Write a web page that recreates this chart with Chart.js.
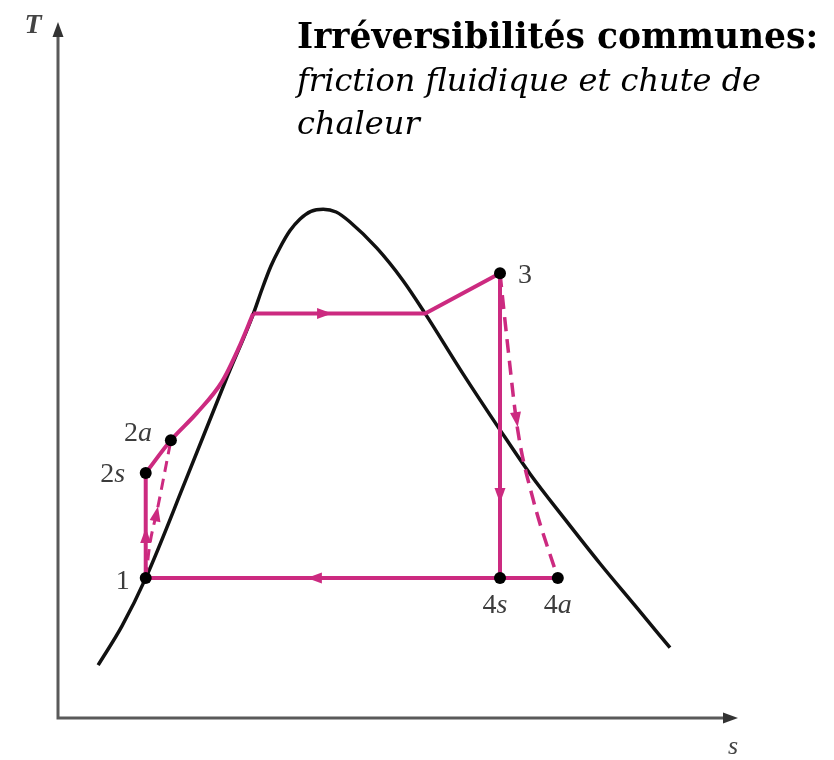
<!DOCTYPE html>
<html>
<head>
<meta charset="utf-8">
<script src="https://cdn.jsdelivr.net/npm/chart.js@4/dist/chart.umd.min.js"></script>
<style>
  html, body { margin: 0; padding: 0; background: #fff; }
  #wrap { width: 834px; height: 760px; }
</style>
</head>
<body>
<div id="wrap"><canvas id="ts" width="834" height="760"></canvas></div>
<script>
// --- Données (s, T en unités arbitraires 0..100) ---
const domeS = [5.9, 9.4, 12.9, 18.8, 24.7, 28.7, 30.0, 31.3, 32.6, 34.1, 35.6, 37.2, 39.0, 40.9, 42.9, 46.9, 50.7, 54.0, 59.4, 65.0, 69.4, 74.6, 79.7, 84.9, 90.0];
const domeT = [7.6, 13.2, 20.1, 34.2, 48.6, 58.0, 61.6, 64.9, 67.5, 70.0, 71.7, 72.8, 73.1, 72.7, 71.3, 67.5, 62.9, 58.1, 49.7, 41.4, 35.1, 28.5, 22.2, 16.1, 10.1];

const stateNames = ['1', '2s', '2a', '3', '4s', '4a'];
const stateS = [12.9, 12.9, 16.6, 65.0, 65.0, 73.5];
const stateT = [20.1, 35.2, 39.9, 63.9, 20.1, 20.1];

// chauffage liquide 2s -> 2a -> liquide saturé
const heatS = [12.9, 16.6, 20.4, 24.1, 26.5, 28.7];
const heatT = [35.2, 39.9, 43.8, 48.3, 53.0, 58.1];
// vaporisation + surchauffe -> 3
const boilS = [28.7, 54.0, 65.0];
const boilT = [58.1, 58.1, 63.9];
// pompe réelle 1 -> 2a (tirets)
const pumpAS = [12.9, 13.5, 14.6, 16.6];
const pumpAT = [20.1, 24.9, 29.9, 39.9];
// turbine réelle 3 -> 4a (tirets)
const turbAS = [65.0, 66.2, 67.6, 69.9, 73.5];
const turbAT = [63.9, 52.9, 41.4, 31.3, 20.1];

// flèches : [s queue, T queue, s pointe, T pointe]
const arrows = [
  [12.9, 25.3, 12.9, 27.3],
  [14.4, 28.9, 14.7, 30.4],
  [38.3, 58.1, 40.3, 58.1],
  [65.0, 32.9, 65.0, 30.9],
  [67.3, 43.8, 67.6, 41.8],
  [38.6, 20.1, 36.6, 20.1]
];

const MAGENTA = '#cc2a80';
const zip = (xs, ys) => xs.map((x, i) => ({ x, y: ys[i] }));
const idx = n => stateNames.indexOf(n);
const pt = n => ({ x: stateS[idx(n)], y: stateT[idx(n)] });

function line(data, opts) {
  return Object.assign({
    data, showLine: true, pointRadius: 0, borderColor: MAGENTA,
    borderWidth: 4, tension: 0, fill: false
  }, opts || {});
}
const smooth = { cubicInterpolationMode: 'monotone' };

// --- Plugin : axes, flèches, textes ---
const decor = {
  id: 'decor',
  afterDatasetsDraw(chart) {
    const { ctx, scales: { x, y } } = chart;
    const X = v => x.getPixelForValue(v);
    const Y = v => y.getPixelForValue(v);

    function head(tx, ty, ang, len, w, color) {
      ctx.save();
      ctx.translate(tx, ty);
      ctx.rotate(ang);
      ctx.fillStyle = color;
      ctx.beginPath();
      ctx.moveTo(0, 0);
      ctx.lineTo(-len, -w / 2);
      ctx.lineTo(-len, w / 2);
      ctx.closePath();
      ctx.fill();
      ctx.restore();
    }

    // axes
    ctx.save();
    ctx.strokeStyle = '#5a5a5a';
    ctx.lineWidth = 3;
    ctx.beginPath();
    ctx.moveTo(X(0), Y(100) + 12);
    ctx.lineTo(X(0), Y(0));
    ctx.lineTo(X(100) - 12, Y(0));
    ctx.stroke();
    ctx.restore();
    head(X(0), Y(100), -Math.PI / 2, 15, 11, '#333');
    head(X(100), Y(0), 0, 15, 11, '#333');

    // flèches du cycle
    arrows.forEach(a => {
      const x0 = X(a[0]), y0 = Y(a[1]), x1 = X(a[2]), y1 = Y(a[3]);
      head(x1, y1, Math.atan2(y1 - y0, x1 - x0), 15, 11, MAGENTA);
    });

    // noms des états
    const offs = { '1': [-23, 4], '2s': [-33, 2], '2a': [-33, -7], '3': [25, 2], '4s': [-5, 28], '4a': [0, 28] };
    ctx.save();
    ctx.fillStyle = '#3c3c3c';
    ctx.textBaseline = 'middle';
    stateNames.forEach((n, i) => {
      const cx = X(stateS[i]) + offs[n][0];
      const cy = Y(stateT[i]) + offs[n][1];
      const num = n[0], let_ = n.slice(1);
      ctx.font = '28px "Liberation Serif"';
      const w1 = ctx.measureText(num).width;
      ctx.font = 'italic 28px "Liberation Serif"';
      const w2 = let_ ? ctx.measureText(let_).width : 0;
      const sx = cx - (w1 + w2) / 2;
      ctx.textAlign = 'left';
      ctx.font = '28px "Liberation Serif"';
      ctx.fillText(num, sx, cy);
      if (let_) {
        ctx.font = 'italic 28px "Liberation Serif"';
        ctx.fillText(let_, sx + w1, cy);
      }
    });

    // étiquettes des axes
    ctx.textAlign = 'center';
    ctx.font = 'italic bold 28px "Liberation Serif"';
    ctx.fillStyle = '#444';
    ctx.fillText('T', 33, 26);
    ctx.font = 'italic 26px "Liberation Serif"';
    ctx.fillText('s', 733, 747);

    // titre
    ctx.textAlign = 'left';
    ctx.textBaseline = 'alphabetic';
    ctx.fillStyle = '#000';
    ctx.font = 'bold 34.5px "DejaVu Serif"';
    ctx.fillText('Irréversibilités communes:', 297, 48);
    ctx.font = 'italic 32px "DejaVu Serif"';
    ctx.fillText('friction fluidique et chute de', 297, 91);
    ctx.fillText('chaleur', 297, 134);
    ctx.restore();
  }
};

new Chart(document.getElementById('ts'), {
  type: 'scatter',
  data: {
    datasets: [
      { data: zip(stateS, stateT), pointRadius: 6, pointBackgroundColor: '#000', pointBorderWidth: 0, showLine: false },
      line(zip(boilS, boilT)),
      line(zip(heatS, heatT), smooth),
      line([pt('1'), pt('2s')]),
      line([pt('3'), pt('4s')]),
      line([pt('4a'), pt('1')]),
      line(zip(pumpAS, pumpAT), Object.assign({ borderDash: [11, 7], borderWidth: 3 }, smooth)),
      line(zip(turbAS, turbAT), Object.assign({ borderDash: [14, 8], borderWidth: 3.5 }, smooth)),
      line(zip(domeS, domeT), Object.assign({ borderColor: '#111', borderWidth: 3.5 }, smooth))
    ]
  },
  options: {
    responsive: false,
    animation: false,
    layout: { padding: { left: 58, right: 96, top: 22, bottom: 42 } },
    plugins: { legend: { display: false }, tooltip: { enabled: false } },
    scales: {
      x: { type: 'linear', min: 0, max: 100, display: false },
      y: { type: 'linear', min: 0, max: 100, display: false }
    }
  },
  plugins: [decor]
});
</script>
</body>
</html>
